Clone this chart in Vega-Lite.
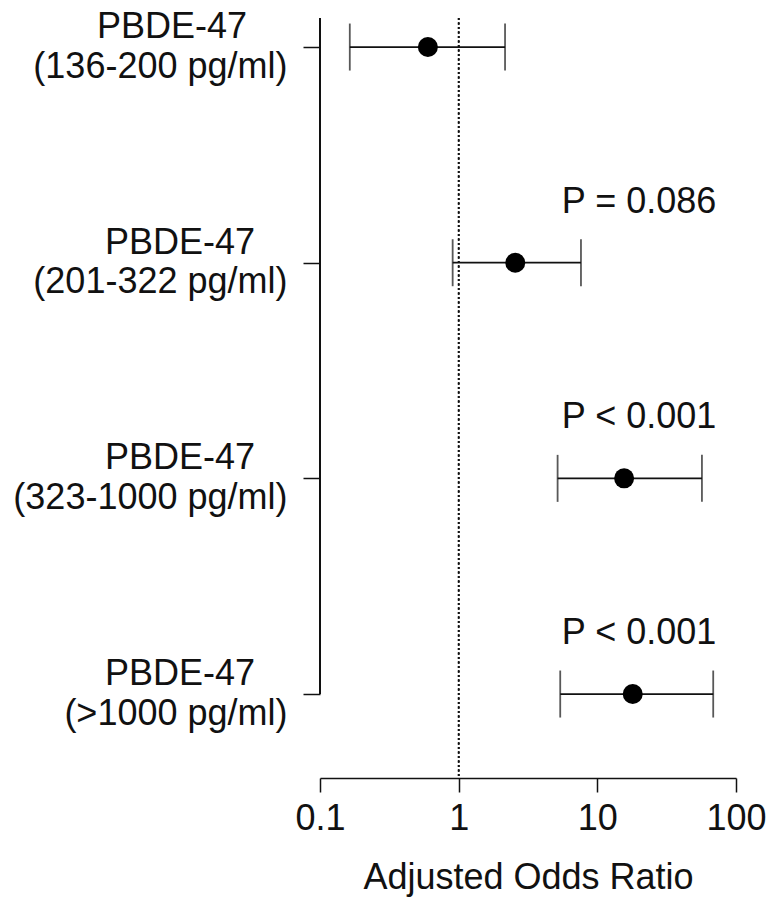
{
  "$schema": "https://vega.github.io/schema/vega-lite/v6.json",
  "autosize": {"type": "none"},
  "padding": {"left": 320, "top": 18, "right": 34, "bottom": 128},
  "width": 416,
  "height": 760,
  "background": "white",
  "config": {
    "view": {"stroke": null},
    "font": "Liberation Sans",
    "axis": {"labelFont": "Liberation Sans", "titleFont": "Liberation Sans", "labelColor": "#111", "titleColor": "#111"}
  },
  "data": {
    "values": [
      {"name": "PBDE-47", "range": "(136-200 pg/ml)", "or": 0.60, "lo": 0.164, "hi": 2.16, "p": ""},
      {"name": "PBDE-47", "range": "(201-322 pg/ml)", "or": 2.56, "lo": 0.905, "hi": 7.62, "p": "P = 0.086"},
      {"name": "PBDE-47", "range": "(323-1000 pg/ml)", "or": 15.6, "lo": 5.17, "hi": 56.8, "p": "P < 0.001"},
      {"name": "PBDE-47", "range": "(>1000 pg/ml)", "or": 18.0, "lo": 5.40, "hi": 68.5, "p": "P < 0.001"}
    ]
  },
  "encoding": {
    "y": {
      "field": "range",
      "type": "nominal",
      "sort": null,
      "scale": {
        "type": "point",
        "padding": 0.262,
        "align": 0.257,
        "domain": ["(136-200 pg/ml)", "(201-322 pg/ml)", "(323-1000 pg/ml)", "(>1000 pg/ml)"]
      },
      "axis": {
        "title": null,
        "domain": false,
        "ticks": true,
        "tickSize": 17,
        "tickWidth": 1.5,
        "tickColor": "#111",
        "labelPadding": 16,
        "labelFontSize": 36,
        "labelLimit": 400,
        "labelAlign": "right",
        "labelBaseline": "middle",
        "labelOffset": 19
      }
    }
  },
  "layer": [
    {
      "mark": {"type": "rule", "strokeDash": [2, 2.5], "strokeWidth": 1.5, "color": "#111"},
      "encoding": {
        "y": null,
        "x": {
          "datum": 1,
          "type": "quantitative",
          "scale": {"type": "log", "domain": [0.1, 100], "nice": false},
          "axis": {
            "title": "Adjusted Odds Ratio",
            "values": [0.1, 1, 10, 100],
            "format": "~g",
            "grid": false,
            "domainColor": "#111",
            "domainWidth": 1.5,
            "tickColor": "#111",
            "tickWidth": 1.5,
            "tickSize": 14,
            "labelPadding": 9,
            "labelFontSize": 36,
            "labelFlush": false,
            "labelOverlap": false,
            "titleFontSize": 36,
            "titleFontWeight": "normal",
            "titlePadding": 24
          }
        }
      }
    },
    {
      "mark": {"type": "rule", "strokeWidth": 1.5, "color": "#111", "yOffset": -29},
      "encoding": {
        "x": {"datum": 0.1, "type": "quantitative"},
        "y": {"datum": "(136-200 pg/ml)", "type": "nominal"},
        "y2": {"datum": "(>1000 pg/ml)"}
      }
    },
    {
      "transform": [{"filter": "datum.range != '(136-200 pg/ml)'"}],
      "mark": {"type": "text", "fontSize": 36, "align": "right", "baseline": "middle", "dx": -65, "dy": -20, "color": "#111", "font": "Liberation Sans"},
      "encoding": {
        "x": {"datum": 0.1, "type": "quantitative"},
        "text": {"field": "name"}
      }
    },
    {
      "transform": [{"filter": "datum.range == '(136-200 pg/ml)'"}],
      "mark": {"type": "text", "fontSize": 36, "align": "right", "baseline": "middle", "dx": -73, "dy": -20, "color": "#111", "font": "Liberation Sans"},
      "encoding": {
        "x": {"datum": 0.1, "type": "quantitative"},
        "text": {"field": "name"}
      }
    },
    {
      "mark": {"type": "rule", "strokeWidth": 1.8, "color": "#111"},
      "encoding": {
        "x": {"field": "lo", "type": "quantitative"},
        "x2": {"field": "hi"}
      }
    },
    {
      "mark": {"type": "tick", "orient": "vertical", "size": 47, "thickness": 1.8, "color": "#111"},
      "encoding": {
        "x": {"field": "lo", "type": "quantitative"}
      }
    },
    {
      "mark": {"type": "tick", "orient": "vertical", "size": 47, "thickness": 1.8, "color": "#111"},
      "encoding": {
        "x": {"field": "hi", "type": "quantitative"}
      }
    },
    {
      "mark": {"type": "circle", "size": 400, "opacity": 1, "color": "#000"},
      "encoding": {
        "x": {"field": "or", "type": "quantitative"}
      }
    },
    {
      "transform": [{"filter": "datum.p != ''"}],
      "mark": {"type": "text", "fontSize": 36, "align": "center", "baseline": "middle", "dy": -61, "color": "#111", "font": "Liberation Sans"},
      "encoding": {
        "x": {"datum": 20, "type": "quantitative"},
        "text": {"field": "p"}
      }
    }
  ]
}
